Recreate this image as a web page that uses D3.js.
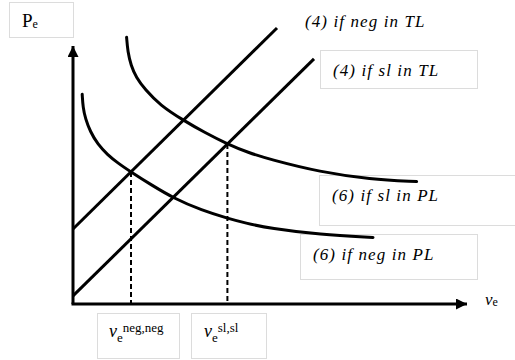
<!doctype html>
<html>
<head>
	<meta charset="utf-8">
	<title>Pe vs ve</title>
	<script src="https://cdnjs.cloudflare.com/ajax/libs/d3/7.8.5/d3.min.js"></script>
	<style>
		body { margin: 0; background: #fff; }
		.box { fill: #fff; stroke: #dcdcdc; stroke-width: 1; }
	</style>
</head>
<body>
	<script>
		// straight lines (4): [ve, Pe] end points
		var tlNeg = [[0, 25], [51, 92]];
		var tlSl = [[0, 2.7], [60.25, 81.7]];

		// curves (6), points
		var plSl = [[13.4, 88.9], [13.7, 84.0], [14.5, 79.5], [15.8, 75.5], [18.0, 71.5], [21.75, 66.3],
			[27.6, 61.2], [33.0, 57.1], [38.6, 53.3], [43.75, 50.5], [49.25, 48.2], [61.75, 44.0],
			[74.25, 41.6], [85.9, 40.8]];
		var plNeg = [[2.3, 69.9], [2.5, 65.5], [3.1, 61.8], [4.3, 57.5], [6.2, 53.2], [8.6, 49.8],
			[11.2, 47.0], [14.5, 44.0], [19.7, 39.6], [25.1, 35.3], [32.2, 31.2], [38.8, 28.5],
			[43.0, 27.0], [49.25, 25.2], [61.75, 23.1], [75, 22.2]];

		// equilibria (dashed drops)
		var eqX = [14.5, 38.6];
		var eqY = [44.0, 53.3];

		var lineLabels = ['(4) if neg in TL', '(4) if sl in TL', '(6) if sl in PL', '(6) if neg in PL'];
		var tickSup = ['neg,neg', 'sl,sl'];

		var W = 515, H = 360;
		var FONT = '"Liberation Serif", "DejaVu Serif", "Times New Roman", serif';

		var svg = d3.select('body').append('svg')
			.attr('width', W)
			.attr('height', H)
			.attr('font-family', FONT);

		var x = d3.scaleLinear().domain([0, 98.5]).range([73, 467]);
		var y = d3.scaleLinear().domain([0, 86]).range([304, 46]);

		var defs = svg.append('defs');
		defs.append('marker')
			.attr('id', 'arrow')
			.attr('viewBox', '0 0 10 10')
			.attr('refX', 10)
			.attr('refY', 5)
			.attr('markerUnits', 'userSpaceOnUse')
			.attr('markerWidth', 11)
			.attr('markerHeight', 11)
			.attr('orient', 'auto')
			.append('path')
			.attr('d', 'M0,0L10,5L0,10Z')
			.attr('fill', '#000');

		// boxes behind the labels
		var boxes = [
			[9, 2, 64, 35],
			[320, 50, 157, 38],
			[319, 175, 200, 50],
			[300, 234, 177, 45],
			[97, 313, 82, 45],
			[191, 313, 75, 45]
		];
		svg.selectAll('rect.box')
			.data(boxes)
			.enter()
			.append('rect')
			.attr('class', 'box')
			.attr('x', function (d) { return d[0] + 0.5; })
			.attr('y', function (d) { return d[1] + 0.5; })
			.attr('width', function (d) { return d[2]; })
			.attr('height', function (d) { return d[3]; });

		// axes
		svg.append('line')
			.attr('x1', x(0)).attr('y1', y(0))
			.attr('x2', x(0)).attr('y2', y(86))
			.attr('stroke', '#000').attr('stroke-width', 3)
			.attr('marker-end', 'url(#arrow)');
		svg.append('line')
			.attr('x1', x(0) - 1.5).attr('y1', y(0))
			.attr('x2', x(98.5)).attr('y2', y(0))
			.attr('stroke', '#000').attr('stroke-width', 3)
			.attr('marker-end', 'url(#arrow)');

		var line = d3.line()
			.x(function (d) { return x(d[0]); })
			.y(function (d) { return y(d[1]); });
		var curve = d3.line()
			.x(function (d) { return x(d[0]); })
			.y(function (d) { return y(d[1]); })
			.curve(d3.curveBasis);

		// dashed drop lines
		svg.selectAll('line.drop')
			.data(eqX)
			.enter()
			.append('line')
			.attr('class', 'drop')
			.attr('x1', function (d) { return x(d); })
			.attr('x2', function (d) { return x(d); })
			.attr('y1', function (d, i) { return y(eqY[i]); })
			.attr('y2', y(0))
			.attr('stroke', '#000')
			.attr('stroke-width', 2)
			.attr('stroke-dasharray', '5,3');

		[tlNeg, tlSl].forEach(function (d) {
			svg.append('path')
				.attr('d', line(d))
				.attr('fill', 'none')
				.attr('stroke', '#000')
				.attr('stroke-width', 3);
		});
		[plSl, plNeg].forEach(function (d) {
			svg.append('path')
				.attr('d', curve(d))
				.attr('fill', 'none')
				.attr('stroke', '#000')
				.attr('stroke-width', 3)
				.attr('stroke-linecap', 'round');
		});

		// line labels
		var labelPos = [[305, 27], [333, 76], [332, 201], [313, 260]];
		svg.selectAll('text.lab')
			.data(lineLabels)
			.enter()
			.append('text')
			.attr('class', 'lab')
			.attr('x', function (d, i) { return labelPos[i][0]; })
			.attr('y', function (d, i) { return labelPos[i][1]; })
			.attr('font-size', 17)
			.attr('font-style', 'italic')
			.attr('letter-spacing', 1.1)
			.text(function (d) { return d; });

		// axis titles
		var pe = svg.append('text').attr('x', 22).attr('y', 27).attr('font-size', 19);
		pe.append('tspan').text('P');
		pe.append('tspan').attr('font-size', 12).attr('dy', 1).text('e');

		var ve = svg.append('text').attr('x', 485).attr('y', 305).attr('font-size', 17);
		ve.append('tspan').attr('font-style', 'italic').text('v');
		ve.append('tspan').attr('font-size', 12).attr('dy', 1).text('e');

		// equilibrium tick labels
		var tickPos = [109, 204];
		tickSup.forEach(function (s, i) {
			var t = svg.append('text').attr('x', tickPos[i]).attr('y', 337).attr('font-size', 18);
			t.append('tspan').attr('font-style', 'italic').text('v');
			t.append('tspan').attr('font-size', 13).attr('dy', 5).text('e');
			t.append('tspan').attr('font-size', 13).attr('dy', -10).text(s);
		});
	</script>
</body>
</html>
